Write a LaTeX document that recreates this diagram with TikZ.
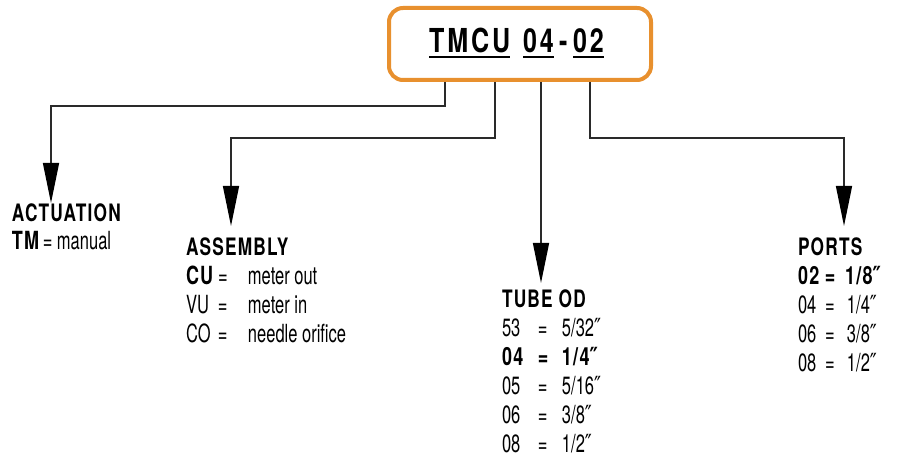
\documentclass[tikz,border=0pt]{standalone}
\usepackage{fontspec}
\setmainfont{TeX Gyre Heros}
\newfontfamily\fr[FakeStretch=0.66]{TeX Gyre Heros}
\newfontfamily\fb[FakeStretch=0.72,LetterSpace=5]{TeX Gyre Heros}
\newfontfamily\ft[FakeStretch=0.76,LetterSpace=9]{TeX Gyre Heros}
\newfontfamily\fq[FakeStretch=0.75]{DejaVu Sans}
\newcommand\dq{{\fq ″}}
\usetikzlibrary{arrows.meta}
\definecolor{boxorange}{HTML}{E8902E}
\definecolor{linegray}{HTML}{2A2A2A}
\newlength\ulwd
\newcommand\myul[1]{\settowidth\ulwd{#1}\rlap{\rule[-5pt]{\ulwd}{2pt}}#1}
\begin{document}
\begin{tikzpicture}[x=1pt,y=-1pt,
  txt/.style={inner sep=0pt,outer sep=0pt,anchor=base west,font=\fr\fontsize{25}{29}\selectfont},
  head/.style={inner sep=0pt,outer sep=0pt,anchor=base west,font=\fb\bfseries\fontsize{24}{28}\selectfont},
  ttl/.style={inner sep=0pt,outer sep=0pt,anchor=base west,font=\ft\bfseries\fontsize{33}{38}\selectfont},
  conn/.style={draw=linegray,line width=1.4pt},
  arr/.style={conn,-{Triangle[width=16pt,length=40pt,fill=black,color=black]}},
  keybox/.style={draw=boxorange,line width=4pt,rounded corners=14pt,minimum width=262pt,minimum height=72pt,inner sep=0pt}
]
\useasboundingbox (0,0) rectangle (911,462);
\fill[white] (0,0) rectangle (911,462);

% title box
\node[keybox] (box) at (520,44) {};
\node[ttl] (t1) at (429,53) {\myul{TMCU}};
\node[ttl] (t2) at (523,53) {\myul{04}};
\node[ttl] (t3) at (559,53) {-};
\node[ttl] (t4) at (573,53) {\myul{02}};

% arrow tips
\coordinate (tipA) at (51,203);
\coordinate (tipB) at (231,226);
\coordinate (tipC) at (541,283);
\coordinate (tipD) at (844,226);

\draw[arr] ([xshift=-75pt]box.south) -- ++(0,24) -| (tipA);
\draw[arr] ([xshift=-25pt]box.south) -- ++(0,56) -| (tipB);
\draw[arr] ([xshift=21pt]box.south) -- (tipC);
\draw[arr] ([xshift=70pt]box.south) -- ++(0,56) -| (tipD);

% ACTUATION
\node[head] (hA) at (12,222) {ACTUATION};
\node[txt] (a1) at (12,250) {\makebox[31pt][l]{\fb\bfseries TM}\makebox[14pt][l]{=}manual};

% ASSEMBLY
\node[head] (hB) at (186,256) {ASSEMBLY};
\node[txt] (b1) at (186,285) {\makebox[32pt][l]{\fb\bfseries CU}\makebox[30pt][l]{=}meter out};
\node[txt] (b2) at (186,314) {\makebox[32pt][l]{VU}\makebox[30pt][l]{=}meter in};
\node[txt] (b3) at (186,343) {\makebox[32pt][l]{CO}\makebox[30pt][l]{=}needle orifice};

% TUBE OD
\node[head] (hC) at (502,308) {TUBE OD};
\node[txt] (c1) at (502,337) {\makebox[36pt][l]{53}\makebox[24pt][l]{=}5/32\dq};
\node[txt] (c2) at (502,366) {\fb\bfseries\makebox[36pt][l]{04}\makebox[24pt][l]{=}1/4\dq};
\node[txt] (c3) at (502,395) {\makebox[36pt][l]{05}\makebox[24pt][l]{=}5/16\dq};
\node[txt] (c4) at (502,424) {\makebox[36pt][l]{06}\makebox[24pt][l]{=}3/8\dq};
\node[txt] (c5) at (502,453) {\makebox[36pt][l]{08}\makebox[24pt][l]{=}1/2\dq};

% PORTS
\node[head] (hD) at (798,256) {PORTS};
\node[txt] (d1) at (798,285) {\fb\bfseries\makebox[27pt][l]{02}\makebox[20pt][l]{=}1/8\dq};
\node[txt] (d2) at (798,314) {\makebox[27pt][l]{04}\makebox[22pt][l]{=}1/4\dq};
\node[txt] (d3) at (798,343) {\makebox[27pt][l]{06}\makebox[22pt][l]{=}3/8\dq};
\node[txt] (d4) at (798,372) {\makebox[27pt][l]{08}\makebox[22pt][l]{=}1/2\dq};
\end{tikzpicture}
\end{document}
